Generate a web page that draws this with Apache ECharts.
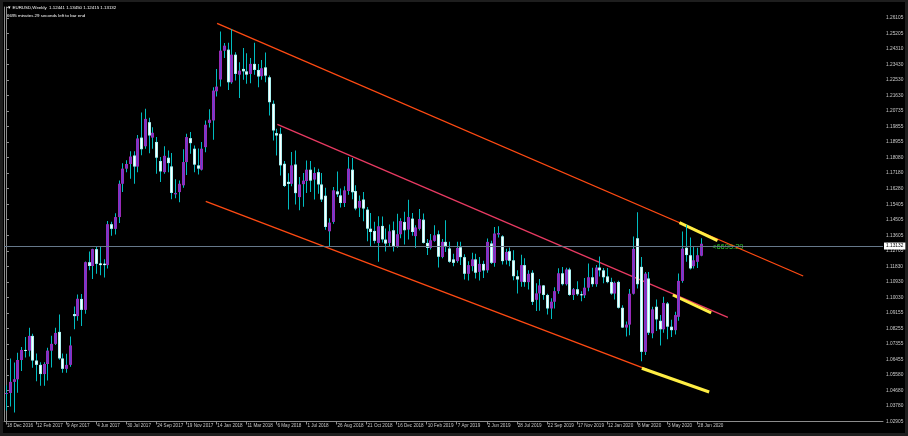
<!DOCTYPE html>
<html><head><meta charset="utf-8">
<script src="https://cdn.jsdelivr.net/npm/echarts@6/dist/echarts.min.js"></script>
<style>html,body{margin:0;padding:0;background:#000;}#c{width:908px;height:436px;}</style>
</head><body><div id="c"></div>
<script>
// ---- data ----
const slotCount = 234; // weekly slots on the time axis (bars + right shift)
const xTickLabels = ['18 Dec 2016','12 Feb 2017','9 Apr 2017','4 Jun 2017','30 Jul 2017','24 Sep 2017','19 Nov 2017','14 Jan 2018','11 Mar 2018','6 May 2018','1 Jul 2018','26 Aug 2018','21 Oct 2018','16 Dec 2018','10 Feb 2019','7 Apr 2019','2 Jun 2019','28 Jul 2019','22 Sep 2019','17 Nov 2019','12 Jan 2020','8 Mar 2020','3 May 2020','28 Jun 2020'];
const yTickLabels = ['1.02905','1.03780','1.04680','1.05580','1.06455','1.07355','1.08255','1.09155','1.10030','1.10930','1.11830','1.12705','1.13605','1.14505','1.15405','1.16280','1.17180','1.18080','1.18955','1.19855','1.20735','1.21630','1.22530','1.23430','1.24310','1.25205','1.26105'];
const opens = [1.0450,1.0453,1.0517,1.0532,1.0643,1.0701,1.0697,1.0782,1.0640,1.0615,1.0562,1.0620,1.0697,1.0736,1.0805,1.0652,1.0592,1.0615,1.0908,1.0896,
1.0995,1.0932,1.1207,1.1185,1.1282,1.1200,1.1198,1.1190,1.1426,1.1399,1.1467,1.1659,1.1746,1.1773,1.1822,1.1758,1.1925,1.1875,1.2014,1.1925,
1.1900,1.1790,1.1726,1.1809,1.1759,1.1598,1.1611,1.1650,1.1784,1.1922,1.1861,1.1765,1.1740,1.1870,1.2010,1.2024,1.2192,1.2260,1.2426,1.2432,
1.2244,1.2403,1.2288,1.2321,1.2307,1.2292,1.2350,1.2315,1.2279,1.2330,1.2273,1.2120,1.1951,1.1947,1.1774,1.1670,1.1659,1.1770,1.1582,1.1657,
1.1675,1.1740,1.1683,1.1726,1.1655,1.1590,1.1385,1.1439,1.1615,1.1592,1.1548,1.1617,1.1740,1.1617,1.1521,1.1568,1.1510,1.1400,1.1387,1.1318,
1.1416,1.1337,1.1318,1.1391,1.1299,1.1368,1.1439,1.1395,1.1458,1.1357,1.1399,1.1452,1.1318,1.1289,1.1330,1.1368,1.1237,1.1324,1.1286,1.1223,
1.1213,1.1293,1.1236,1.1140,1.1184,1.1223,1.1151,1.1197,1.1160,1.1315,1.1203,1.1366,1.1356,1.1218,1.1270,1.1218,1.1126,1.1094,1.1190,1.1092,
1.1146,1.0990,1.1027,1.1073,1.1018,1.0940,1.0979,1.1040,1.1143,1.1080,1.1165,1.1018,1.1051,1.1022,1.1016,1.1060,1.1120,1.1080,1.1176,1.1160,
1.1125,1.1093,1.1026,1.1093,1.0944,1.0830,1.0847,1.1025,1.1345,1.1180,1.0690,1.1113,1.0797,1.0950,1.0869,1.0820,1.0969,1.0835,1.0815,1.0892,
1.1099,1.1290,1.1247,1.1184,1.1209,1.12441];
const highs = [1.0498,1.0652,1.0629,1.0685,1.0718,1.0776,1.0829,1.0795,1.0680,1.0630,1.0630,1.0714,1.0783,1.0829,1.0906,1.0680,1.0679,1.0778,1.0951,1.1021,
1.1024,1.1211,1.1268,1.1285,1.1296,1.1296,1.1224,1.1445,1.1440,1.1489,1.1678,1.1777,1.1795,1.1846,1.1847,1.1940,1.2070,1.2092,1.2040,1.1985,
1.1928,1.1813,1.1875,1.1851,1.1837,1.1685,1.1678,1.1858,1.1947,1.1958,1.1880,1.1862,1.1899,1.2024,1.2088,1.2215,1.2321,1.2536,1.2470,1.2472,
1.2551,1.2417,1.2359,1.2442,1.2411,1.2384,1.2472,1.2350,1.2373,1.2415,1.2283,1.2139,1.1976,1.1982,1.1790,1.1720,1.1842,1.1851,1.1698,1.1721,
1.1793,1.1790,1.1754,1.1745,1.1721,1.1636,1.1460,1.1640,1.1730,1.1631,1.1644,1.1813,1.1807,1.1650,1.1592,1.1611,1.1525,1.1491,1.1440,1.1472,
1.1470,1.1401,1.1424,1.1442,1.1486,1.1460,1.1497,1.1567,1.1490,1.1420,1.1514,1.1488,1.1340,1.1370,1.1420,1.1390,1.1340,1.1448,1.1324,1.1255,
1.1324,1.1324,1.1252,1.1213,1.1261,1.1255,1.1237,1.1215,1.1343,1.1330,1.1410,1.1414,1.1362,1.1285,1.1291,1.1276,1.1161,1.1250,1.1230,1.1161,
1.1161,1.1085,1.1110,1.1076,1.1025,1.0999,1.1063,1.1172,1.1179,1.1175,1.1175,1.1058,1.1097,1.1040,1.1116,1.1200,1.1175,1.1190,1.1239,1.1173,
1.1173,1.1117,1.1096,1.1100,1.0959,1.0865,1.1053,1.1355,1.1495,1.1237,1.1151,1.1151,1.0950,1.0992,1.0902,1.1007,1.0978,1.0875,1.0921,1.1141,
1.1384,1.1422,1.1349,1.1300,1.1290,1.13450];
const lows = [1.0352,1.0375,1.0340,1.0454,1.0580,1.0658,1.0663,1.0598,1.0521,1.0494,1.0494,1.0525,1.0600,1.0730,1.0645,1.0570,1.0570,1.0604,1.0820,1.0870,
1.0839,1.0910,1.1160,1.1110,1.1140,1.1131,1.1118,1.1170,1.1360,1.1366,1.1433,1.1611,1.1726,1.1688,1.1659,1.1726,1.1823,1.1861,1.1835,1.1861,
1.1717,1.1669,1.1717,1.1726,1.1570,1.1575,1.1552,1.1636,1.1710,1.1832,1.1726,1.1712,1.1736,1.1841,1.1984,1.1913,1.2162,1.2220,1.2384,1.2200,
1.2235,1.2254,1.2154,1.2258,1.2235,1.2238,1.2288,1.2215,1.2258,1.2244,1.2052,1.1909,1.1822,1.1707,1.1640,1.1510,1.1645,1.1540,1.1506,1.1527,
1.1606,1.1611,1.1568,1.1602,1.1554,1.1394,1.1300,1.1429,1.1582,1.1522,1.1525,1.1596,1.1570,1.1506,1.1467,1.1443,1.1328,1.1299,1.1314,1.1210,
1.1320,1.1268,1.1300,1.1269,1.1290,1.1345,1.1309,1.1337,1.1360,1.1289,1.1390,1.1315,1.1249,1.1280,1.1325,1.1176,1.1230,1.1266,1.1203,1.1183,
1.1203,1.1190,1.1107,1.1102,1.1155,1.1113,1.1102,1.1116,1.1146,1.1196,1.1180,1.1349,1.1194,1.1193,1.1184,1.1103,1.1027,1.1065,1.1065,1.1050,
1.0960,1.0926,1.0927,1.0990,1.0905,1.0879,1.0940,1.1025,1.1073,1.1073,1.1014,1.0989,1.1014,1.0981,1.1000,1.1040,1.1065,1.1065,1.1125,1.1086,
1.1085,1.1019,1.0992,1.0940,1.0827,1.0778,1.0785,1.1020,1.1055,1.0636,1.0672,1.0787,1.0768,1.0810,1.0727,1.0800,1.0762,1.0775,1.0790,1.0870,
1.1088,1.1209,1.1165,1.1171,1.1174,1.12415];
const closes = [1.0453,1.0517,1.0532,1.0643,1.0701,1.0697,1.0782,1.0640,1.0615,1.0562,1.0620,1.0697,1.0736,1.0799,1.0652,1.0592,1.0615,1.0727,1.0896,1.0996,
1.0932,1.1207,1.1185,1.1282,1.1197,1.1190,1.1190,1.1426,1.1399,1.1467,1.1659,1.1746,1.1773,1.1816,1.1758,1.1920,1.1858,1.2033,1.1937,1.1953,
1.1809,1.1730,1.1820,1.1778,1.1606,1.1606,1.1659,1.1784,1.1928,1.1893,1.1769,1.1746,1.1861,1.1999,1.2028,1.2196,1.2219,1.2426,1.2455,1.2244,
1.2403,1.2292,1.2311,1.2307,1.2288,1.2350,1.2315,1.2277,1.2325,1.2282,1.2129,1.1966,1.1937,1.1765,1.1646,1.1658,1.1765,1.1605,1.1655,1.1677,
1.1740,1.1677,1.1721,1.1655,1.1568,1.1410,1.1435,1.1621,1.1598,1.1548,1.1621,1.1746,1.1610,1.1516,1.1560,1.1516,1.1400,1.1381,1.1330,1.1414,
1.1338,1.1314,1.1385,1.1299,1.1368,1.1444,1.1391,1.1467,1.1381,1.1407,1.1456,1.1318,1.1289,1.1333,1.1362,1.1238,1.1324,1.1299,1.1209,1.1203,
1.1289,1.1236,1.1140,1.1190,1.1223,1.1146,1.1197,1.1159,1.1324,1.1203,1.1372,1.1375,1.1213,1.1266,1.1215,1.1126,1.1107,1.1190,1.1092,1.1140,
1.0978,1.1027,1.1073,1.1018,1.0940,1.0979,1.1040,1.1143,1.1080,1.1165,1.1018,1.1051,1.1022,1.1016,1.1060,1.1120,1.1080,1.1176,1.1160,1.1120,
1.1092,1.1026,1.1088,1.0944,1.0830,1.0847,1.1025,1.1284,1.1080,1.0690,1.1141,1.0800,1.0935,1.0877,1.0820,1.0972,1.0835,1.0815,1.0902,1.1099,
1.1285,1.1248,1.1171,1.1218,1.1247,1.13132];
// trend lines: [weekIndex, price] end points
const channelTop = [[56.2, 1.25840], [212.25, 1.11274]];
const channelMid = [[72.25, 1.20018], [192.2, 1.08893]];
const channelLow = [[53.18, 1.15580], [170.63, 1.05896]];
const markTop = [[179.31, 1.14346], [189.43, 1.13308]];
const markMid = [[177.55, 1.10178], [187.75, 1.09141]];
const markLow = [[169.29, 1.05953], [187.22, 1.04587]];
const symbolName = 'EURUSD,Weekly';
const timerText = '6695 minutes 29 seconds left to bar end';
const timerShort = '<6695:29';

// ---- chart ----
const yStep = 1.0378 / 116;
const yMin = 115 * yStep;
const yMax = 1.26779;
const slots = Array.from({length: slotCount}, (_, i) => String(i));
const candleData = opens.map((o, i) => [i, o, closes[i], lows[i], highs[i]]);
const lastClose = closes[closes.length - 1];
const lastBar = opens.length - 1;
const showTick = (i) => i % 8 === 0 && i <= lastBar;

const chart = echarts.init(document.getElementById('c'), null, {renderer: 'canvas'});
const FONT = 'Liberation Sans';
const AXIS = '#8c8c8c';
const lineSeries = (pts, color, width) => ({
  type: 'line', xAxisIndex: 1, yAxisIndex: 0, data: pts, symbol: 'none', silent: true,
  animation: false, lineStyle: {color: color, width: width}, z: 3
});
chart.setOption({
  backgroundColor: '#000',
  animation: false,
  grid: {left: 4.12, right: 25, top: 7, bottom: 14.5, show: false},
  xAxis: [{
    type: 'category', data: slots, boundaryGap: true, position: 'bottom',
    axisLine: {show: true, lineStyle: {color: AXIS, width: 1}},
    axisTick: {show: true, alignWithLabel: true, interval: (i) => showTick(i), length: 3, lineStyle: {color: AXIS}},
    axisLabel: {show: true, interval: (i) => showTick(i), formatter: (v, i) => xTickLabels[i / 8] || '',
      color: '#c8c8c8', fontSize: 4.6, fontFamily: FONT, align: 'left', margin: 2, padding: [0, 0, 0, 1]},
    splitLine: {show: false}
  }, {
    type: 'value', min: -0.5, max: slotCount - 0.5, show: false
  }],
  yAxis: [{
    type: 'value', position: 'right', min: yMin, max: yMax, interval: yStep, scale: true,
    axisLine: {show: true, lineStyle: {color: AXIS, width: 1}},
    axisTick: {show: true, length: 3, lineStyle: {color: AXIS}},
    axisLabel: {color: '#c8c8c8', fontSize: 4.8, fontFamily: FONT, margin: 3,
      formatter: (v) => yTickLabels[Math.round(v / yStep) - 115] || ''},
    splitLine: {show: false}
  }, {
    type: 'value', position: 'left', min: yMin, max: yMax, scale: true,
    axisLine: {show: true, lineStyle: {color: AXIS, width: 1}},
    axisTick: {show: false}, axisLabel: {show: false}, splitLine: {show: false}
  }],
  series: [
    {
      type: 'custom', xAxisIndex: 0, yAxisIndex: 0, data: candleData, silent: true, z: 4,
      renderItem: (params, api) => {
        const k = api.value(0), o = api.value(1), c = api.value(2), l = api.value(3), h = api.value(4);
        const po = api.coord([k, o]), pc = api.coord([k, c]), pl = api.coord([k, l]), ph = api.coord([k, h]);
        const px = Math.round(po[0]);
        const bull = c >= o;
        const top = Math.min(po[1], pc[1]), bot = Math.max(po[1], pc[1]);
        const hgt = Math.max(bot - top, 1);
        return {type: 'group', children: [
          {type: 'rect', shape: {x: px, y: ph[1], width: 1, height: pl[1] - ph[1]}, style: {fill: '#00bcc0'}},
          {type: 'rect', shape: {x: px - 1, y: top, width: 3, height: hgt}, style: {fill: bull ? '#9a2ab8' : '#aef2f2'}},
          {type: 'rect', shape: {x: px, y: top + (hgt > 2 ? 1 : 0), width: 1, height: hgt > 2 ? hgt - 2 : hgt}, style: {fill: bull ? '#6244d0' : '#ffffff'}}
        ]};
      }
    },
    Object.assign(lineSeries(channelTop, '#ff4a12', 1.3), {
      markLine: {
        silent: true, symbol: 'none', animation: false,
        data: [{yAxis: lastClose}],
        lineStyle: {color: '#66788a', width: 1, type: 'solid'},
        label: {position: 'end', formatter: () => lastClose.toFixed(5), backgroundColor: '#ffffff', color: '#000',
          fontSize: 4.8, fontFamily: FONT, padding: [1, 2, 1, 2], distance: 1}
      }
    }),
    lineSeries(channelMid, '#e83a62', 1.3),
    lineSeries(channelLow, '#ff4a12', 1.3),
    lineSeries(markTop, '#ffee44', 3),
    lineSeries(markMid, '#ffee44', 3),
    lineSeries(markLow, '#ffee44', 3)
  ],
  graphic: [
    {type: 'rect', left: 0, top: 0, shape: {width: 908, height: 2}, style: {fill: '#1e1e1e'}, silent: true},
    {type: 'rect', left: 0, top: 0, shape: {width: 3, height: 436}, style: {fill: '#1e1e1e'}, silent: true},
    {type: 'rect', left: 905, top: 0, shape: {width: 3, height: 436}, style: {fill: '#1e1e1e'}, silent: true},
    {type: 'rect', left: 0, top: 433, shape: {width: 908, height: 3}, style: {fill: '#1e1e1e'}, silent: true},
    {type: 'text', left: 7, top: 6, style: {text: '\u25BC ' + symbolName + '  ' + [opens[lastBar], highs[lastBar], lows[lastBar], closes[lastBar]].map(v => v.toFixed(5)).join(' '), fill: '#ffffff', fontSize: 4.4, fontFamily: FONT}},
    {type: 'text', left: 7, top: 14, style: {text: timerText, fill: '#ffffff', fontSize: 4.4, fontFamily: FONT}},
    {type: 'text', left: 712, top: 243, style: {text: timerShort, fill: '#2ec82e', fontSize: 7.5, fontFamily: FONT}}
  ]
});
</script></body></html>
